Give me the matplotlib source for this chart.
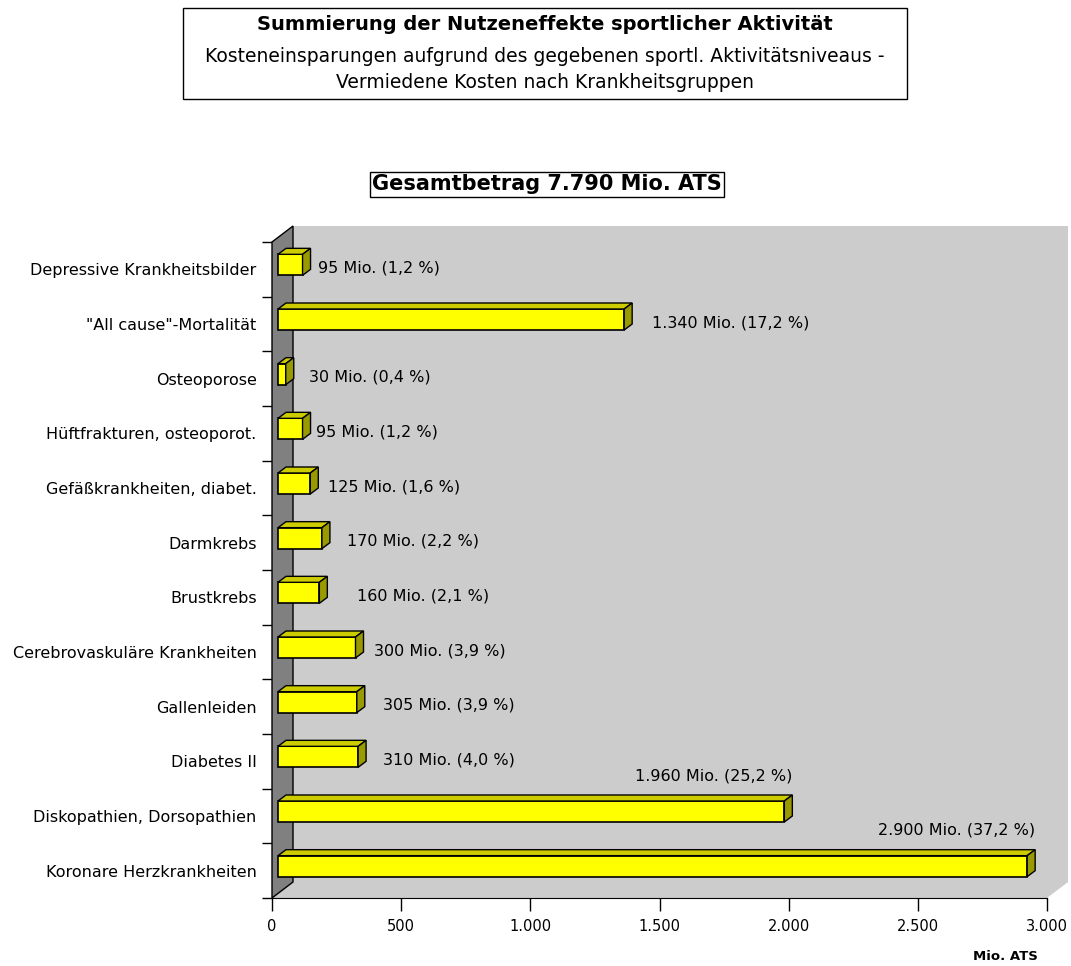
import numpy as np
import matplotlib
matplotlib.use('Agg')
import matplotlib.pyplot as plt
from matplotlib.patches import Polygon, Rectangle

# data, top to bottom
categories = ['Depressive Krankheitsbilder', '"All cause"-Mortalität', 'Osteoporose',
              'Hüftfrakturen, osteoporot.', 'Gefäßkrankheiten, diabet.', 'Darmkrebs',
              'Brustkrebs', 'Cerebrovaskuläre Krankheiten', 'Gallenleiden', 'Diabetes II',
              'Diskopathien, Dorsopathien', 'Koronare Herzkrankheiten']
values = [95, 1340, 30, 95, 125, 170, 160, 300, 305, 310, 1960, 2900]
percents = [1.2, 17.2, 0.4, 1.2, 1.6, 2.2, 2.1, 3.9, 3.9, 4.0, 25.2, 37.2]
x_ticks = [0, 500, 1000, 1500, 2000, 2500, 3000]
x_tick_labels = ['0', '500', '1.000', '1.500', '2.000', '2.500', '3.000']

title = 'Summierung der Nutzeneffekte sportlicher Aktivität'
subtitle = 'Kosteneinsparungen aufgrund des gegebenen sportl. Aktivitätsniveaus -\nVermiedene Kosten nach Krankheitsgruppen'
total_text = 'Gesamtbetrag 7.790 Mio. ATS'
unit_text = 'Mio. ATS'

# label placement (pixel gap after bar end); None = above the bar, right aligned
label_gap = [7, 20, 15, 5, 10, 17, 30, 10, 18, 17, None, None]

W, H = 1071, 966
plt.rcParams['font.family'] = 'DejaVu Sans'
plt.rcParams['font.size'] = 11

fig = plt.figure(figsize=(W / 100, H / 100), dpi=100)
ax = fig.add_axes([272 / W, 1 - 898 / H, 775 / W, 656 / H])
ax.set_xlim(0, 3000)
ax.set_ylim(11.5, -0.5)

px = 3000 / 775.      # data units per pixel, x
py = 12 / 656.        # data units per pixel, y
DX, DY = 21 * px, 16 * py   # depth of the box
bx, bd = 8 * px, 6 * py     # depth of the bars
left0 = 6 * px
shift = 4.5 * py
bh = 21 * py

wall_c = '#cccccc'
side_c = '#808080'

# back wall + floor
back = Polygon([(0, -0.5), (DX, -0.5 - DY), (3000 + DX, -0.5 - DY), (3000 + DX, 11.5 - DY),
                (3000, 11.5), (0, 11.5)], closed=True, facecolor=wall_c, edgecolor='none',
               clip_on=False, zorder=1)
ax.add_patch(back)
side = Polygon([(0, -0.5), (DX, -0.5 - DY), (DX, 11.5 - DY), (0, 11.5)], closed=True,
               facecolor=side_c, edgecolor='black', lw=1, clip_on=False, zorder=2)
ax.add_patch(side)

ypos = np.arange(len(categories)) - shift
ax.barh(ypos, values, height=bh, left=left0, color='#ffff00', edgecolor='black',
        linewidth=1.2, zorder=5, clip_on=False)

for y, v, p, g in zip(ypos, values, percents, label_gap):
    top, bot = y - bh / 2, y + bh / 2
    r = left0 + v
    ax.add_patch(Polygon([(left0, top), (r, top), (r + bx, top - bd), (left0 + bx, top - bd)],
                         closed=True, facecolor='#cccc00', edgecolor='black', lw=1,
                         clip_on=False, zorder=5))
    ax.add_patch(Polygon([(r, top), (r + bx, top - bd), (r + bx, bot - bd), (r, bot)],
                         closed=True, facecolor='#999900', edgecolor='black', lw=1,
                         clip_on=False, zorder=5))
    txt = '%s Mio. (%s %%)' % (f'{v:,}'.replace(',', '.'), f'{p:.1f}'.replace('.', ','))
    if g is None:
        ax.text(r + bx, y - 36 * py, txt, ha='right', va='center', fontsize=11.5, zorder=6)
    else:
        ax.text(r + bx + g * px, y + 3 * py, txt, ha='left', va='center', fontsize=11.5,
                zorder=6)

# axes styling
for s in ['top', 'right', 'left']:
    ax.spines[s].set_visible(False)
ax.spines['bottom'].set_zorder(3)
ax.set_xticks(x_ticks)
ax.set_xticklabels(x_tick_labels)
ax.tick_params(axis='x', direction='out', length=9, width=1, pad=6, labelsize=10.5)
ax.set_yticks(np.arange(-0.5, 12, 1))
ax.set_yticklabels([])
ax.tick_params(axis='y', which='major', direction='out', length=7.5, width=1)
ax.set_yticks(np.arange(len(categories)), minor=True)
ax.set_yticklabels(categories, minor=True)
ax.tick_params(axis='y', which='minor', length=0, pad=11, labelsize=11.5)
ax.set_facecolor('none')

# title box
fig.patches.append(Rectangle((183 / W, 1 - 99 / H), 724 / W, 91 / H, transform=fig.transFigure,
                             facecolor='white', edgecolor='black', lw=1))
fig.text(545 / W, 1 - 24 / H, title, ha='center', va='center', fontsize=14, fontweight='bold')
fig.text(545 / W, 1 - 69.5 / H, subtitle, ha='center', va='center', fontsize=13.5,
         linespacing=1.5)

fig.text(547 / W, 1 - 184 / H, total_text, ha='center', va='center', fontsize=15,
         fontweight='bold', bbox=dict(boxstyle='square,pad=0.12', facecolor='white',
                                      edgecolor='black', lw=1))
fig.text(1005 / W, 1 - 957 / H, unit_text, ha='center', va='center', fontsize=9.5,
         fontweight='bold')

fig.savefig('out.png', dpi=100)
